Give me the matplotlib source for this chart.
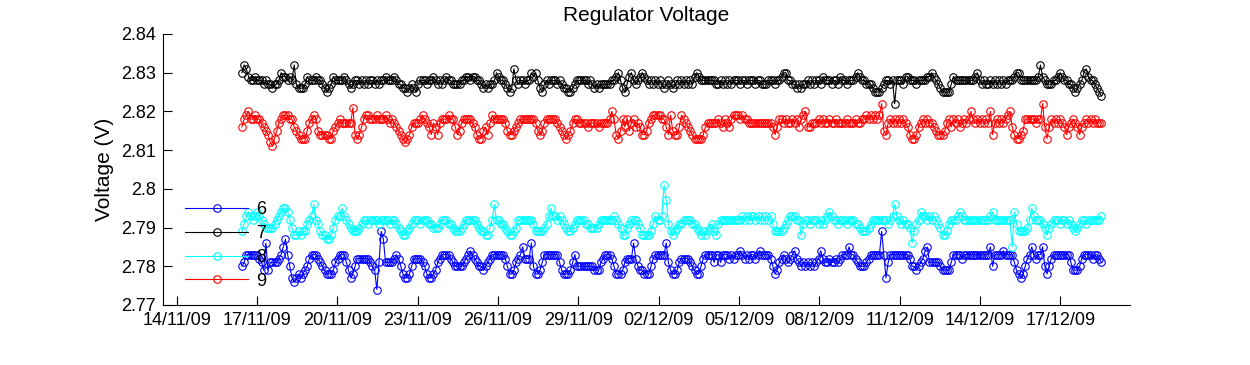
import numpy as np
import pandas as pd
import matplotlib
matplotlib.use('Agg')
import matplotlib.pyplot as plt
import matplotlib.dates as mdates
from matplotlib.ticker import FormatStrFormatter

plt.rcParams['font.family'] = ['Liberation Sans', 'DejaVu Sans']

# readings, one character per sample (base-36 digit = mV above the series base)
# each string is roughly one day of samples
start_time = '2009-11-16 10:30'
sample_step = '117min'

base_6 = 2.774
reg_6 = [
    "67999999875c", "5777789bd963", "234345689998", "765444578999",
    "753468888887", "6507fd777789", "864334688887", "643345789999",
    "876666789a98", "766567899999", "986445789b88", "8c6445799999",
    "997544457966", "666666555789", "998644457888", "c86554446899",
    "999c75445788", "887654468999", "979979998989", "9a98989989a9",
    "999864578987", "89a876767676", "78a877877878", "999b99876667",
    "899999f93799", "999999986656", "78ab77777655", "557999989999",
    "99999999b699", "99a999975434", "689b9899b646", "899999999755",
    "568999989987",
]

base_7 = 2.820
reg_7 = [
    "acb988988878", "776778a99898", "c76667988898", "876567988889",
    "876788787878", "878788988898", "776656765788", "878898787898",
    "877778899899", "887676778a98", "87656b878878", "8a9a86578788",
    "878766556788", "888787676777", "77889a86579a", "8789a9878787",
    "876787678787", "87879a988888", "887787878788", "878878887887",
    "778887889aa8", "877676778787", "887988878879", "8878889a9887",
    "776555678878", "288879988878", "88899a987655", "557988888888",
    "89a878778787", "87878889aa88", "8888889c9877", "7889a9887765",
    "678ab9887654",
]

base_8 = 2.785
reg_8 = [
    "468987898765", "5556789aa975", "334344678b76", "4332235788a8",
    "765444567767", "777677776776", "543345677767", "776655567776",
    "654445677777", "65443357b776", "654334577777", "7764444568a8",
    "878765445677", "776655556777", "777876533567", "776533334687",
    "78gc64345667", "777665434345", "643677777777", "778787887878",
    "787864444567", "888773677677", "767678987767", "776777665444",
    "567777777678", "b87676651467", "988787876533", "467778987777",
    "777777778977", "777777096444", "457a87776535", "677767767654",
    "567767777778",
]

base_9 = 2.810
reg_9 = [
    "689a88988765", "421357899988", "654333578985", "444433567877",
    "777b43468998", "889888987876", "543234677789", "876476478889",
    "886457888876", "433564798888", "875445678888", "888754578888",
    "876543457887", "777677776777", "78a843586857", "867644578999",
    "988649544698", "765433334677", "777876876899", "989887777777",
    "777764688787", "7878689a6677", "787877877877", "778777877889",
    "898989c54787", "878787643346", "787877654445", "78687867878a",
    "87878787a478", "78789a643345", "88888788c636", "878787646787",
    "646787878777",
]

labels = ['6', '7', '8', '9']
colors = ['#0000ff', '#000000', '#00ffff', '#ff0000']
y_ticks = [2.77, 2.78, 2.79, 2.80, 2.81, 2.82, 2.83, 2.84]


def decode(chunks, base):
    s = ''.join(chunks)
    return base + np.array([int(c, 36) for c in s]) * 0.001


series = [decode(reg_6, base_6), decode(reg_7, base_7),
          decode(reg_8, base_8), decode(reg_9, base_9)]

fig = plt.figure(figsize=(12.5, 3.65), dpi=100)
ax = fig.add_axes([0.1304, 0.1644, 0.7736, 0.7425])

for vals, lab, col in zip(series, labels, colors):
    t = pd.date_range(start_time, periods=len(vals), freq=sample_step)
    ax.plot(t, vals, '-o', color=col, mfc='none', mec=col, ms=5.4,
            mew=0.8, lw=0.8, label=lab)

t0 = mdates.date2num(pd.Timestamp('2009-11-14'))
ax.set_xlim(t0 - 0.51, t0 + 35.6)
ax.set_xticks(pd.date_range('2009-11-14', '2009-12-17', freq='3D'))
ax.xaxis.set_major_formatter(mdates.DateFormatter('%d/%m/%y'))

ax.set_ylim(2.77, 2.84)
ax.set_yticks(y_ticks)
ax.yaxis.set_major_formatter(FormatStrFormatter('%g'))

ax.spines['top'].set_visible(False)
ax.spines['right'].set_visible(False)
for sp in ['left', 'bottom']:
    ax.spines[sp].set_linewidth(0.8)
ax.tick_params(direction='in', length=6.5, width=0.8, labelsize=13, pad=5)

ax.set_title('Regulator Voltage', fontsize=15, pad=9)
ax.set_ylabel('Voltage (V)', fontsize=15, labelpad=5)

ax.legend(loc='upper left', bbox_to_anchor=(0.023, 0.383), frameon=False,
          fontsize=13, handlelength=3.5, handletextpad=0.45,
          labelspacing=0.38, borderpad=0, borderaxespad=0)

fig.savefig('out.png', dpi=100)
